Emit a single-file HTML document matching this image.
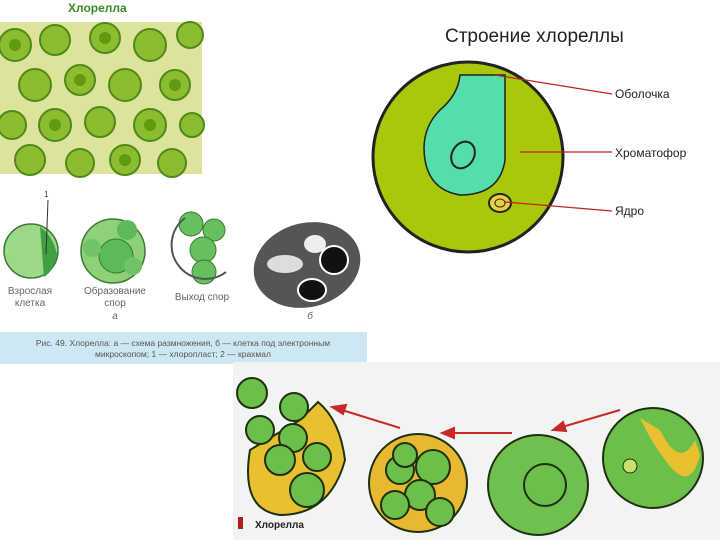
<!DOCTYPE html>
<html><head><meta charset="utf-8"><style>
body{margin:0;width:720px;height:540px;background:#fff;overflow:hidden;font-family:"Liberation Sans",sans-serif}
</style></head><body>
<svg width="720" height="540" xmlns="http://www.w3.org/2000/svg" font-family="Liberation Sans, sans-serif">
<text x="68" y="12" font-size="12" font-weight="bold" fill="#3a8a20">Хлорелла</text>
<rect x="0" y="22" width="202" height="152" fill="#dde39a"/>
<g fill="#8cbc30" stroke="#4f8a18" stroke-width="2">
<circle cx="15" cy="45" r="16"/><circle cx="55" cy="40" r="15"/><circle cx="105" cy="38" r="15"/><circle cx="150" cy="45" r="16"/><circle cx="190" cy="35" r="13"/>
<circle cx="35" cy="85" r="16"/><circle cx="80" cy="80" r="15"/><circle cx="125" cy="85" r="16"/><circle cx="175" cy="85" r="15"/>
<circle cx="12" cy="125" r="14"/><circle cx="55" cy="125" r="16"/><circle cx="100" cy="122" r="15"/><circle cx="150" cy="125" r="16"/><circle cx="192" cy="125" r="12"/>
<circle cx="30" cy="160" r="15"/><circle cx="80" cy="163" r="14"/><circle cx="125" cy="160" r="15"/><circle cx="172" cy="163" r="14"/>
</g>
<g fill="#5f9a10">
<circle cx="15" cy="45" r="6"/><circle cx="105" cy="38" r="6"/><circle cx="80" cy="80" r="6"/><circle cx="175" cy="85" r="6"/><circle cx="55" cy="125" r="6"/><circle cx="150" cy="125" r="6"/><circle cx="125" cy="160" r="6"/>
</g>
<!-- scheme a -->
<circle cx="31" cy="251" r="27" fill="#9bd88a" stroke="#3a7a30" stroke-width="1.5"/>
<path d="M40 227 Q52 234 57 254 Q54 271 44 277 Z" fill="#40a040"/>
<line x1="48" y1="200" x2="46" y2="254" stroke="#333"/>
<text x="44" y="197" font-size="8" fill="#333">1</text>
<circle cx="113" cy="251" r="32" fill="#8fd07a" stroke="#3a7a30" stroke-width="1.5"/>
<circle cx="116" cy="256" r="17" fill="#5cba5c" stroke="#3a7a30"/>
<circle cx="127" cy="230" r="10" fill="#5cba5c"/>
<circle cx="92" cy="248" r="9" fill="#70c468"/><circle cx="133" cy="266" r="9" fill="#70c468"/>
<circle cx="191" cy="224" r="12" fill="#66c060" stroke="#3a7a30"/><circle cx="214" cy="230" r="11" fill="#66c060" stroke="#3a7a30"/>
<circle cx="203" cy="250" r="13" fill="#66c060" stroke="#3a7a30"/><circle cx="204" cy="272" r="12" fill="#66c060" stroke="#3a7a30"/>
<path d="M185 218 A30 30 0 1 0 226 272" fill="none" stroke="#555" stroke-width="2"/>
<g font-size="10" fill="#666" text-anchor="middle">
<text x="30" y="294">Взрослая</text><text x="30" y="306">клетка</text>
<text x="115" y="294">Образование</text><text x="115" y="306">спор</text><text x="115" y="319" font-style="italic">а</text>
<text x="202" y="300">Выход спор</text><text x="310" y="319" font-style="italic">б</text>
</g>
<ellipse cx="307" cy="265" rx="54" ry="42" fill="#555" transform="rotate(-15 307 265)"/>
<ellipse cx="285" cy="264" rx="18" ry="9" fill="#ddd"/><ellipse cx="315" cy="244" rx="11" ry="9" fill="#eee"/>
<ellipse cx="334" cy="260" rx="14" ry="14" fill="#111" stroke="#fff" stroke-width="2"/>
<ellipse cx="312" cy="290" rx="14" ry="11" fill="#111" stroke="#fff" stroke-width="2"/>
<rect x="0" y="332" width="367" height="32" fill="#cde8f2"/>
<text x="183" y="346" font-size="8.5" fill="#555" text-anchor="middle">Рис. 49. Хлорелла: а — схема размножения, б — клетка под электронным</text>
<text x="183" y="357" font-size="8.5" fill="#555" text-anchor="middle">микроскопом; 1 — хлоропласт; 2 — крахмал</text>
<!-- structure -->
<text x="445" y="42" font-size="19" fill="#222">Строение хлореллы</text>
<circle cx="468" cy="157" r="95" fill="#a8c80a" stroke="#222" stroke-width="3"/>
<path d="M460 75 Q458 95 440 110 Q420 130 425 160 Q430 190 460 195 Q500 195 505 160 L505 75 Z" fill="#55ddaa" stroke="#222" stroke-width="1.5"/>
<ellipse cx="463" cy="155" rx="11" ry="14" fill="none" stroke="#222" stroke-width="2" transform="rotate(30 463 155)"/>
<ellipse cx="500" cy="203" rx="11" ry="9" fill="#e8d040" stroke="#222" stroke-width="2"/>
<ellipse cx="500" cy="203" rx="5" ry="4" fill="none" stroke="#222"/>
<g stroke="#c02020" stroke-width="1.2">
<line x1="495" y1="75" x2="612" y2="94"/><line x1="520" y1="152" x2="612" y2="152"/><line x1="505" y1="202" x2="612" y2="211"/>
</g>
<g font-size="12" fill="#222"><text x="615" y="98">Оболочка</text><text x="615" y="157">Хроматофор</text><text x="615" y="215">Ядро</text></g>
<!-- bottom panel -->
<rect x="233" y="362" width="487" height="178" fill="#f2f4f2"/>
<g stroke="#1f3010" stroke-width="2" fill="#6cbf4a">
<path d="M250 450 Q240 510 280 515 Q330 515 345 460 Q340 420 318 402 L300 420 Z" fill="#e8c030"/>
<circle cx="252" cy="393" r="15"/><circle cx="294" cy="407" r="14"/><circle cx="260" cy="430" r="14"/>
<circle cx="293" cy="438" r="14"/><circle cx="280" cy="460" r="15"/><circle cx="317" cy="457" r="14"/>
<circle cx="307" cy="490" r="17"/>
<circle cx="418" cy="483" r="49" fill="#e8b830"/>
<circle cx="433" cy="467" r="17"/><circle cx="400" cy="470" r="14"/><circle cx="420" cy="495" r="15"/><circle cx="440" cy="512" r="14"/><circle cx="395" cy="505" r="14"/><circle cx="405" cy="455" r="12"/>
<circle cx="538" cy="485" r="50" fill="#70c050"/>
<circle cx="545" cy="485" r="21"/>
<circle cx="653" cy="458" r="50" fill="#6cbf4a"/>
</g>
<path d="M640 418 Q650 440 665 460 Q690 495 700 455 L695 440 Q680 470 660 430 Z" fill="#e8c030"/>
<circle cx="630" cy="466" r="7" fill="#c8e070" stroke="#1f3010"/>
<g stroke="#c82828" stroke-width="2" fill="#c82828">
<line x1="400" y1="428" x2="342" y2="410"/><polygon points="332,407 346,405 343,414"/>
<line x1="512" y1="433" x2="452" y2="433"/><polygon points="442,433 454,428 454,438"/>
<line x1="620" y1="410" x2="562" y2="427"/><polygon points="553,430 563,422 566,431"/>
</g>
<rect x="238" y="517" width="5" height="12" fill="#b02020"/>
<text x="255" y="528" font-size="10" font-weight="bold" fill="#222">Хлорелла</text>
</svg>
</body></html>
